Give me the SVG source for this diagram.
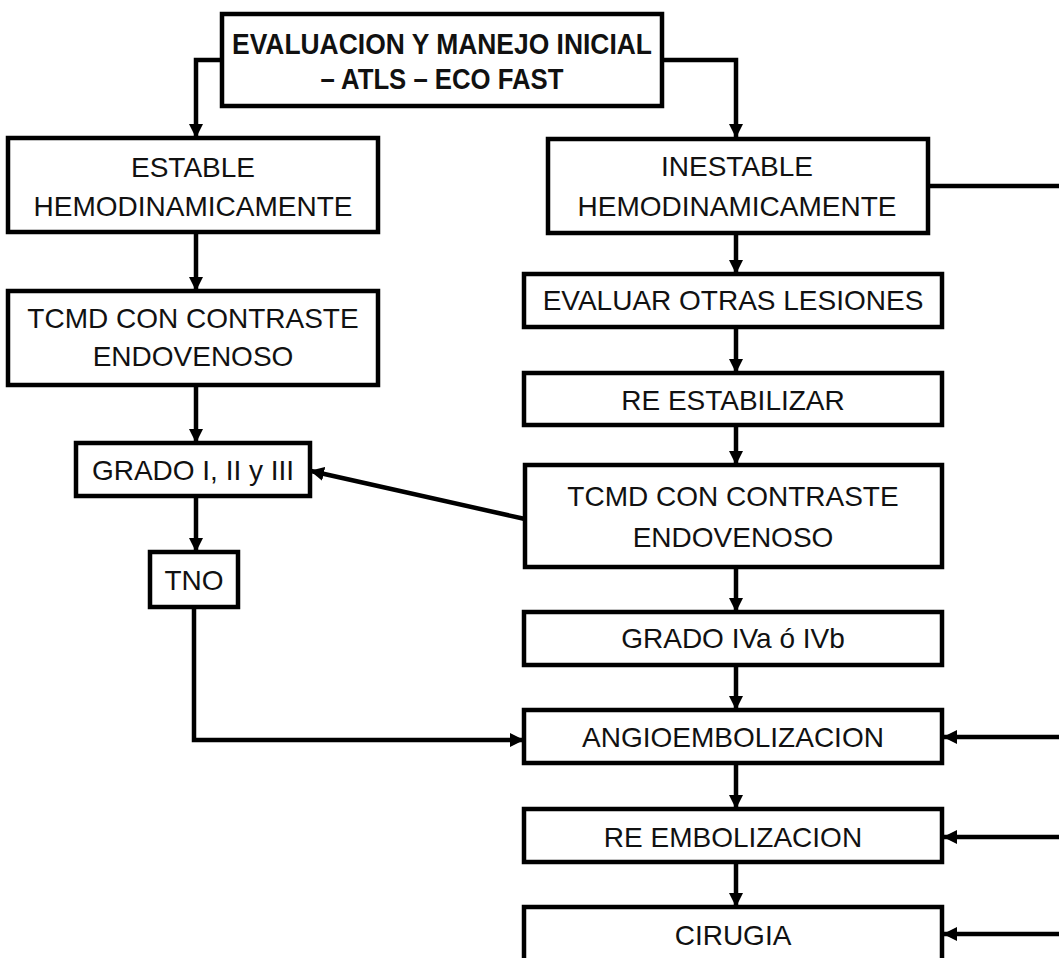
<svg xmlns="http://www.w3.org/2000/svg" width="1059" height="958" viewBox="0 0 1059 958">
<defs>
<marker id="ah" markerUnits="userSpaceOnUse" markerWidth="14" markerHeight="14" refX="13" refY="7" orient="auto">
<path d="M0,0 L14,7 L0,14 Z" fill="#000"/>
</marker>
<style>
.box{fill:#fff;stroke:#000;stroke-width:4.5}
.t{font-family:"Liberation Sans",Arial,sans-serif;font-size:28px;fill:#111;text-anchor:middle}
.b{font-weight:bold;font-size:29px}
.c{fill:none;stroke:#000;stroke-width:4.5}
.a{marker-end:url(#ah)}
</style>
</defs>
<rect width="1059" height="958" fill="#fff"/>
<g id="connectors">
<path class="c a" d="M222,60 H196 V137"/>
<path class="c a" d="M662,60 H736 V137"/>
<path class="c" d="M928,186 H1062"/>
<path class="c a" d="M196,232 V290"/>
<path class="c a" d="M196,385 V442"/>
<path class="c a" d="M196,496 V551"/>
<path class="c a" d="M194,607 V740 H523"/>
<path class="c a" d="M736,233 V273"/>
<path class="c a" d="M736,327 V372"/>
<path class="c a" d="M736,425 V464"/>
<path class="c a" d="M525,519 L311,471"/>
<path class="c a" d="M736,567 V611"/>
<path class="c a" d="M736,665 V709"/>
<path class="c a" d="M736,763 V808"/>
<path class="c a" d="M736,862 V906"/>
<path class="c a" d="M1062,737 H944"/>
<path class="c a" d="M1062,837 H944"/>
<path class="c a" d="M1062,934 H944"/>
</g>
<g id="n-inicial">
<rect class="box" x="222" y="14" width="440" height="92"/>
<text class="t b" x="442" y="54" textLength="420" lengthAdjust="spacingAndGlyphs">EVALUACION Y MANEJO INICIAL</text>
<text class="t b" x="442" y="89" textLength="243" lengthAdjust="spacingAndGlyphs">– ATLS – ECO FAST</text>
</g>
<g id="n-estable">
<rect class="box" x="8" y="138" width="370" height="94"/>
<text class="t" x="193" y="177">ESTABLE</text>
<text class="t" x="193" y="216">HEMODINAMICAMENTE</text>
</g>
<g id="n-tcmd-left">
<rect class="box" x="8" y="291" width="370" height="94"/>
<text class="t" x="193" y="328">TCMD CON CONTRASTE</text>
<text class="t" x="193" y="366">ENDOVENOSO</text>
</g>
<g id="n-grado123">
<rect class="box" x="76" y="443" width="234" height="53"/>
<text class="t" x="193" y="480">GRADO I, II y III</text>
</g>
<g id="n-tno">
<rect class="box" x="150" y="552" width="88" height="55"/>
<text class="t" x="194" y="590">TNO</text>
</g>
<g id="n-inestable">
<rect class="box" x="548" y="139" width="380" height="94"/>
<text class="t" x="737" y="176">INESTABLE</text>
<text class="t" x="737" y="216">HEMODINAMICAMENTE</text>
</g>
<g id="n-evaluar">
<rect class="box" x="524" y="274" width="418" height="53"/>
<text class="t" x="733" y="310">EVALUAR OTRAS LESIONES</text>
</g>
<g id="n-reestabilizar">
<rect class="box" x="524" y="373" width="418" height="52"/>
<text class="t" x="733" y="410">RE ESTABILIZAR</text>
</g>
<g id="n-tcmd-right">
<rect class="box" x="525" y="465" width="417" height="102"/>
<text class="t" x="733" y="506">TCMD CON CONTRASTE</text>
<text class="t" x="733" y="547">ENDOVENOSO</text>
</g>
<g id="n-grado4">
<rect class="box" x="524" y="612" width="418" height="53"/>
<text class="t" x="733" y="648">GRADO IVa ó IVb</text>
</g>
<g id="n-angio">
<rect class="box" x="524" y="710" width="418" height="53"/>
<text class="t" x="733" y="747">ANGIOEMBOLIZACION</text>
</g>
<g id="n-reembol">
<rect class="box" x="524" y="809" width="418" height="53"/>
<text class="t" x="733" y="847">RE EMBOLIZACION</text>
</g>
<g id="n-cirugia">
<rect class="box" x="524" y="907" width="418" height="70"/>
<text class="t" x="733" y="945">CIRUGIA</text>
</g>
</svg>
